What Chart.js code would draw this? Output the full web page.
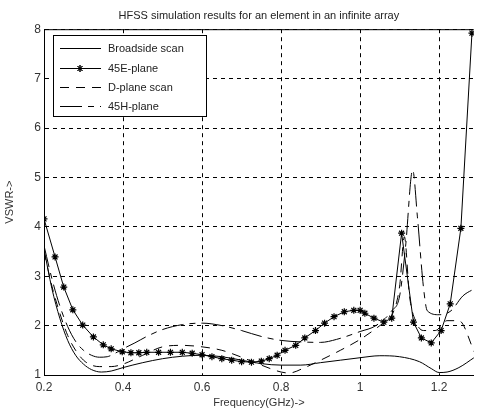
<!DOCTYPE html>
<html>
<head>
<meta charset="utf-8">
<script src="https://cdn.jsdelivr.net/npm/chart.js@4/dist/chart.umd.min.js"></script>
<style>
  html, body { margin: 0; padding: 0; background: #fff; }
</style>
</head>
<body>
<canvas id="myChart" width="479" height="413"></canvas>
<script>
// values (GHz, VSWR)
const broadFreq = [0.2,0.22,0.24,0.26,0.28,0.3,0.32,0.345,0.37,0.4,0.45,0.5,0.55,0.6,0.65,0.7,0.75,0.8,0.85,0.9,0.95,1.0,1.05,1.1,1.15,1.18,1.2,1.22,1.25,1.29]
const broadVswr = [3.55,2.75,2.15,1.7,1.4,1.22,1.11,1.06,1.08,1.15,1.25,1.33,1.38,1.4,1.37,1.3,1.23,1.2,1.2,1.25,1.3,1.35,1.39,1.37,1.27,1.13,1.05,1.06,1.15,1.36]

const e45Freq = [0.2,0.228,0.25,0.273,0.298,0.325,0.35,0.37,0.398,0.42,0.44,0.46,0.49,0.52,0.55,0.575,0.6,0.625,0.65,0.675,0.7,0.725,0.75,0.77,0.79,0.81,0.837,0.86,0.887,0.91,0.934,0.96,0.984,1.0,1.012,1.035,1.06,1.08,1.105,1.135,1.155,1.18,1.205,1.228,1.255,1.283]
const e45Vswr = [4.16,3.39,2.78,2.32,2.01,1.77,1.61,1.53,1.47,1.45,1.45,1.46,1.46,1.46,1.46,1.44,1.41,1.37,1.33,1.3,1.27,1.26,1.28,1.33,1.4,1.5,1.6,1.75,1.9,2.05,2.18,2.28,2.31,2.31,2.25,2.15,2.07,2.15,3.87,2.07,1.75,1.65,1.9,2.44,3.97,7.92]

const dFreq = [0.2,0.22,0.24,0.26,0.28,0.3,0.32,0.34,0.37,0.4,0.45,0.5,0.55,0.6,0.65,0.7,0.75,0.8,0.82,0.86,0.9,0.95,1.0,1.05,1.08,1.1,1.112,1.125,1.14,1.16,1.19,1.22,1.25,1.29]
const dVswr = [3.5,2.8,2.25,1.8,1.5,1.3,1.2,1.17,1.17,1.22,1.4,1.57,1.6,1.57,1.5,1.36,1.2,1.06,1.04,1.15,1.3,1.5,1.72,2.0,2.2,2.8,3.8,2.6,2.1,1.9,1.9,2.1,2.1,1.45]

const h45Freq = [0.2,0.22,0.24,0.26,0.28,0.3,0.32,0.34,0.36,0.38,0.4,0.43,0.46,0.5,0.55,0.6,0.65,0.7,0.75,0.8,0.85,0.9,0.94,1.0,1.04,1.08,1.1,1.115,1.133,1.145,1.16,1.17,1.2,1.23,1.26,1.29]
const h45Vswr = [3.62,2.95,2.4,1.98,1.68,1.5,1.4,1.36,1.37,1.44,1.53,1.65,1.78,1.92,2.02,2.05,2.0,1.9,1.78,1.7,1.67,1.66,1.72,1.88,2.0,2.3,2.6,3.6,5.15,4.2,2.8,2.3,2.22,2.3,2.6,2.75]

const xTicks = [0.2,0.4,0.6,0.8,1.0,1.2]
const yTicks = [1,2,3,4,5,6,7,8]
const labels = ['Broadside scan','45E-plane','D-plane scan','45H-plane']

function pts(xs, ys) {
  return xs.map((x, i) => ({x: x, y: ys[i]}))
}

// box top line + legend drawn inside the plot
const framePlugin = {
  id: 'frame',
  afterDatasetsDraw(chart) {
    const ctx = chart.ctx
    const a = chart.chartArea
    ctx.save()
    ctx.strokeStyle = '#000'
    ctx.lineWidth = 1
    ctx.setLineDash([])
    ctx.beginPath()
    ctx.moveTo(a.left, a.top + 0.5)
    ctx.lineTo(a.right, a.top + 0.5)
    ctx.stroke()

    // legend
    const bx = 53.5, by = 35.5, bw = 153, bh = 81
    ctx.fillStyle = '#fff'
    ctx.fillRect(bx, by, bw, bh)
    ctx.strokeRect(bx, by, bw, bh)
    const rows = [48, 68, 87, 106]
    chart.data.datasets.forEach((ds, i) => {
      const y = rows[i] + 0.5
      ctx.strokeStyle = '#000'
      ctx.lineWidth = 1
      ctx.setLineDash(ds.borderDash || [])
      ctx.beginPath()
      ctx.moveTo(60, y)
      ctx.lineTo(101, y)
      ctx.stroke()
      ctx.setLineDash([])
      if (ds.pointRadius > 0) {
        Chart.helpers.drawPoint(ctx, {pointStyle: 'star', radius: 3.5, borderWidth: 1}, 80, y)
        ctx.stroke()
      }
      ctx.fillStyle = '#222'
      ctx.font = '11px "Liberation Sans", Arial, sans-serif'
      ctx.textBaseline = 'middle'
      ctx.fillText(ds.label, 108, y)
    })
    ctx.restore()
  }
}

function createChart() {
  const ctx = document.getElementById('myChart')
  new Chart(ctx, {
    type: 'line',
    data: {
      datasets: [{
        label: labels[0],
        data: pts(broadFreq, broadVswr),
        borderColor: '#000',
        borderWidth: 1,
        pointRadius: 0,
        cubicInterpolationMode: 'monotone'
      }, {
        label: labels[1],
        data: pts(e45Freq, e45Vswr),
        borderColor: '#000',
        borderWidth: 1,
        pointStyle: 'star',
        pointRadius: 3.5,
        pointBorderColor: '#000',
        pointBorderWidth: 1.2,
        tension: 0
      }, {
        label: labels[2],
        data: pts(dFreq, dVswr),
        borderColor: '#000',
        borderWidth: 1,
        borderDash: [9, 7],
        pointRadius: 0,
        cubicInterpolationMode: 'monotone'
      }, {
        label: labels[3],
        data: pts(h45Freq, h45Vswr),
        borderColor: '#000',
        borderWidth: 1,
        borderDash: [22, 6, 6, 6],
        pointRadius: 0,
        cubicInterpolationMode: 'monotone'
      }]
    },
    options: {
      responsive: false,
      animation: false,
      layout: { padding: 0 },
      plugins: {
        legend: { display: false },
        tooltip: { enabled: false },
        title: {
          display: true,
          fullSize: false,
          text: 'HFSS simulation results for an element in an infinite array',
          color: '#222',
          font: { family: '"Liberation Sans", Arial, sans-serif', size: 11, weight: 'normal' },
          padding: { top: 9, bottom: 7 }
        }
      },
      scales: {
        x: {
          type: 'linear',
          min: 0.2,
          max: 1.2877,
          afterBuildTicks: (s) => { s.ticks = xTicks.map(v => ({value: v})) },
          afterFit: (s) => { s.height = 38 },
          grid: { color: '#000', lineWidth: 1, drawTicks: false },
          border: { color: '#000', width: 1, dash: [4, 4] },
          ticks: {
            color: '#333',
            padding: 5,
            maxRotation: 0,
            font: { family: '"Liberation Sans", Arial, sans-serif', size: 12 },
            callback: (v) => String(Math.round(v * 10) / 10)
          },
          title: {
            display: true,
            text: 'Frequency(GHz)->',
            color: '#333',
            font: { family: '"Liberation Sans", Arial, sans-serif', size: 11 },
            padding: { top: 2, bottom: 3 }
          }
        },
        y: {
          min: 1,
          max: 8,
          afterBuildTicks: (s) => { s.ticks = yTicks.map(v => ({value: v})) },
          afterFit: (s) => { s.width = 44 },
          grid: { color: '#000', lineWidth: 1, drawTicks: false },
          border: { color: '#000', width: 1, dash: [4, 4] },
          ticks: {
            color: '#333',
            padding: 3,
            font: { family: '"Liberation Sans", Arial, sans-serif', size: 12 }
          },
          title: {
            display: true,
            text: 'VSWR->',
            color: '#333',
            font: { family: '"Liberation Sans", Arial, sans-serif', size: 11 },
            padding: { top: 3, bottom: 2 }
          }
        }
      }
    },
    plugins: [framePlugin]
  })
}

createChart()
</script>
</body>
</html>
